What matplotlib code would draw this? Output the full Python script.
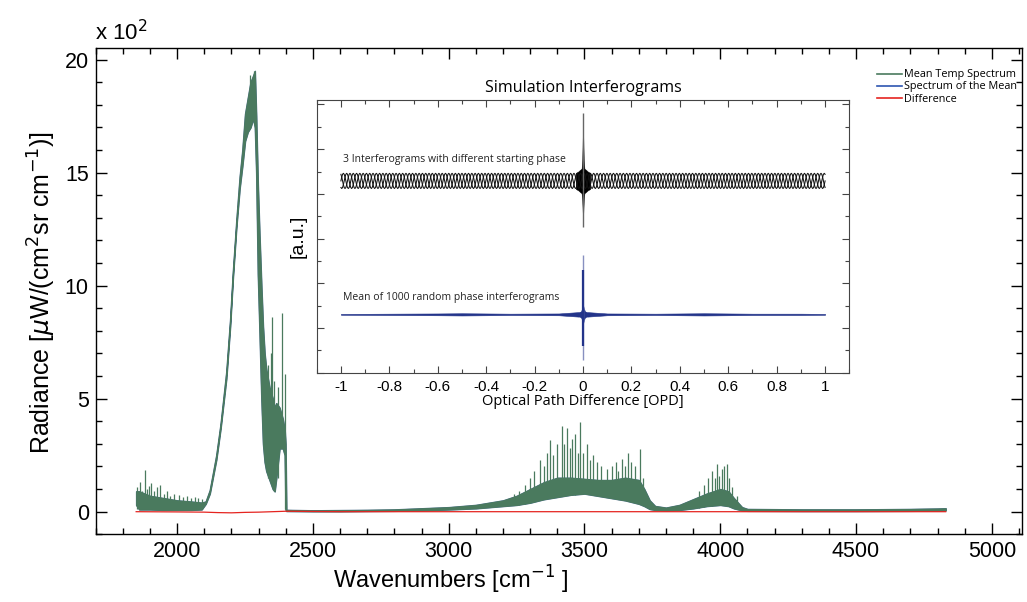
import numpy as np
import matplotlib
matplotlib.use("Agg")
import matplotlib.pyplot as plt
from matplotlib.lines import Line2D
from matplotlib.ticker import MultipleLocator

# ---- main spectrum (radiance in units of 10^2 uW/(cm^2 sr cm^-1)) ----
spec_wn = [1849, 1860, 1880, 1900, 1950, 2000, 2050, 2090, 2105, 2120, 2144, 2160,
           2181, 2195, 2205, 2218, 2230, 2240, 2250, 2260, 2270, 2280, 2286, 2291,
           2297, 2303, 2310, 2316, 2322, 2328, 2340, 2352, 2359, 2365, 2377, 2389,
           2396, 2399, 2402, 2500, 2600, 2700, 2800, 2900, 3000, 3100, 3200, 3250,
           3300, 3350, 3400, 3450, 3500, 3550, 3600, 3650, 3700, 3720, 3740, 3760,
           3800, 3850, 3900, 3950, 4000, 4030, 4050, 4080, 4100, 4300, 4500, 4700,
           4800, 4830]
spec_lo = [0.3, 0.1, 0.1, 0.1, 0.08, 0.08, 0.08, 0.1, 0.35, 0.8, 2.3, 3.7,
           5.9, 8.2, 10.3, 12.6, 14.3, 15.3, 16.4, 16.8, 17.0, 17.4, 17.0, 15.0,
           10.5, 8.0, 5.0, 3.0, 2.2, 1.8, 1.4, 1.0, 0.9, 1.5, 2.8, 2.8,
           2.5, 0.1, 0.03, 0.02, 0.02, 0.03, 0.04, 0.06, 0.1, 0.15, 0.25, 0.3,
           0.4, 0.55, 0.65, 0.75, 0.8, 0.7, 0.6, 0.5, 0.35, 0.25, 0.12, 0.08,
           0.06, 0.08, 0.15, 0.25, 0.3, 0.25, 0.15, 0.06, 0.04, 0.03, 0.03, 0.04,
           0.05, 0.06]
spec_hi = [0.9, 0.9, 0.8, 0.7, 0.6, 0.5, 0.45, 0.4, 0.45, 0.95, 2.5, 3.9,
           6.2, 8.5, 10.6, 12.9, 14.8, 16.0, 17.6, 18.3, 19.0, 19.3, 19.5, 17.5,
           14.5, 12.3, 10.0, 8.2, 7.0, 6.3, 5.5, 5.0, 4.6, 4.8, 4.6, 4.1,
           3.6, 3.0, 0.08, 0.06, 0.07, 0.08, 0.1, 0.15, 0.2, 0.3, 0.5, 0.7,
           1.0, 1.3, 1.5, 1.5, 1.45, 1.4, 1.4, 1.5, 1.4, 1.0, 0.5, 0.25,
           0.18, 0.3, 0.55, 0.8, 1.0, 0.9, 0.6, 0.2, 0.12, 0.1, 0.1, 0.12,
           0.14, 0.15]

spike_wn = [1852, 1862, 1870, 1880, 1888, 1896, 1905, 1915, 1925, 1938, 1950, 1962,
            1975, 1990, 2005, 2020, 2035, 2050, 2065, 2078, 2090,
            2270, 2283, 2335, 2345, 2350, 2357, 2370, 2386, 2396,
            3240, 3260, 3280, 3300, 3315, 3336, 3350, 3362, 3372, 3385, 3397, 3416,
            3425, 3434, 3445, 3455, 3465, 3475, 3483, 3495, 3508, 3520, 3530, 3545,
            3560, 3582, 3600, 3615, 3625, 3637, 3648, 3661, 3672, 3685, 3704, 3715,
            3920, 3940, 3955, 3970, 3980, 3987, 3995, 4005, 4012, 4024, 4032, 4045, 4060]
spike_top = [1.1, 1.3, 0.9, 1.85, 1.0, 1.15, 1.25, 0.9, 1.1, 1.2, 0.8, 0.9,
             0.7, 0.8, 0.75, 0.65, 0.7, 0.6, 0.65, 0.6, 0.55,
             19.3, 19.5, 6.5, 7.0, 8.6, 5.8, 5.5, 8.8, 6.1,
             0.8, 0.9, 1.2, 1.5, 1.8, 2.3, 2.0, 2.6, 3.15, 2.5, 3.0, 3.8,
             3.0, 3.7, 2.8, 3.2, 3.45, 2.6, 3.96, 2.6, 3.0, 2.3, 2.5, 2.2,
             2.0, 1.9, 2.0, 2.2, 1.8, 2.35, 2.0, 2.6, 2.2, 2.0, 2.77, 1.5,
             0.9, 1.2, 1.5, 1.8, 1.5, 2.1, 1.6, 1.9, 2.0, 2.1, 1.5, 1.1, 0.7]
spike_base = [0.1] * 21 + [17.0, 17.2, 1.5, 1.4, 1.2, 0.9, 1.5, 2.8, 0.1] + \
             [0.3, 0.3, 0.35, 0.4, 0.45, 0.55, 0.55, 0.6, 0.6, 0.62, 0.65, 0.68,
              0.7, 0.72, 0.75, 0.75, 0.76, 0.78, 0.8, 0.8, 0.8, 0.78, 0.75, 0.72,
              0.7, 0.68, 0.6, 0.58, 0.55, 0.52, 0.5, 0.48, 0.45, 0.42, 0.35, 0.3] + \
             [0.15, 0.2, 0.25, 0.27, 0.28, 0.3, 0.3, 0.3, 0.28, 0.27, 0.25, 0.2, 0.12]

diff_wn = [1849, 2000, 2100, 2150, 2200, 2250, 2300, 2350, 2400, 2600,
           3000, 3500, 4000, 4830]
diff_val = [0.0, -0.01, -0.02, -0.04, -0.05, -0.03, -0.02, 0.0, 0.02, 0.0,
            0.0, 0.0, 0.0, 0.0]

# ---- inset interferograms ----
ifg_cycle = [0.0, 0.5, 0.87, 1.0, 0.87, 0.5, 0.0, -0.5, -0.87, -1.0, -0.87, -0.5]
ifg_shift = [0, 4, 8]          # samples of starting phase, one per interferogram
ifg_ncycles = 49
ifg_center = 8.58
ifg_amp = 0.34
burst_x = [-0.03, -0.02, -0.012, -0.006, -0.003, 0.0, 0.003, 0.006, 0.012, 0.02, 0.03]
burst_up = [0.36, 0.42, 0.5, 0.55, 1.0, 2.6, 1.0, 0.55, 0.5, 0.42, 0.36]
burst_dn = [0.36, 0.42, 0.5, 0.55, 0.9, 1.8, 0.9, 0.55, 0.5, 0.42, 0.36]
ifg_tip = [6.5, 11.6]

mean_center = 2.61
mean_x = [-1.0, -0.8, -0.6, -0.5, -0.3, -0.1, -0.02, 0.02, 0.1, 0.3, 0.5, 0.7, 0.9, 1.0]
mean_amp = [0.02, 0.03, 0.04, 0.05, 0.03, 0.04, 0.1, 0.1, 0.04, 0.03, 0.05, 0.03, 0.03, 0.02]
mburst_x = [-0.015, -0.008, -0.004, 0.0, 0.004, 0.008, 0.015]
mburst_amp = [0.08, 0.15, 0.25, 0.45, 0.25, 0.15, 0.08]
mean_tip = [0.57, 5.26]
mean_core = [1.2, 4.6]

green = '#4a7a5e'
blue = '#2d55b0'
red = '#e52420'
navy = '#23348a'

fig = plt.figure(figsize=(10.27, 6.02), dpi=100)
main_font = 'Liberation Sans'
ax = fig.add_axes([95.7 / 1027, 1 - 534.3 / 602, 926 / 1027, 486 / 602])

ax.fill_between(spec_wn, spec_lo, spec_hi, facecolor=green, edgecolor='#4a6e8a', lw=1.1)
ax.fill_between(spec_wn, spec_lo, spec_hi, facecolor=green, edgecolor=green, lw=0.7)
ax.vlines(spike_wn, spike_base, spike_top, color=green, lw=0.9)
ax.plot(diff_wn, diff_val, color=red, lw=0.9)

ax.set_xlim(1700, 5110)
ax.set_ylim(-1.0, 20.5)
ax.xaxis.set_major_locator(MultipleLocator(500))
ax.xaxis.set_minor_locator(MultipleLocator(100))
ax.yaxis.set_major_locator(MultipleLocator(5))
ax.yaxis.set_minor_locator(MultipleLocator(1))
ax.tick_params(which='both', direction='in', top=True, right=True, width=1.0)
ax.tick_params(which='major', length=8, labelsize=15.5, pad=5)
ax.tick_params(which='minor', length=4)
for lab in ax.get_xticklabels() + ax.get_yticklabels():
    lab.set_family(main_font)
for s in ax.spines.values():
    s.set_linewidth(1.0)

fig.text(451 / 1027, 1 - 580 / 602, 'Wavenumbers [cm$^{-1}$ ]', ha='center', va='center',
         fontsize=17, family=main_font)
fig.text(42 / 1027, 1 - 293 / 602, r'Radiance [$\mu$W/(cm$^2$sr cm$^{-1}$)]', ha='center',
         va='center', rotation=90, fontsize=18, family=main_font)
fig.text(95 / 1027, 1 - 33 / 602, 'x 10$^2$', ha='left', va='center', fontsize=16,
         family=main_font)

handles = [Line2D([], [], color=green, lw=1.2), Line2D([], [], color=blue, lw=1.2),
           Line2D([], [], color=red, lw=1.2)]
ax.legend(handles, ['Mean Temp Spectrum', 'Spectrum of the Mean', 'Difference'],
          loc='upper left', bbox_to_anchor=(872 / 1027, 1 - 64 / 602),
          bbox_transform=fig.transFigure, frameon=False, borderpad=0,
          handlelength=2.3, handletextpad=0.15, labelspacing=0.1,
          prop={'family': 'Open Sans', 'size': 7.8})

# ---- inset ----
ins_font = 'Open Sans'
ax2 = fig.add_axes([316.7 / 1027, 1 - 372.7 / 602, 532.6 / 1027, 272.7 / 602])
n = len(ifg_cycle) * ifg_ncycles
ifg_x = np.linspace(-1, 1, n + 1)
for sh in ifg_shift:
    y = np.tile(np.roll(ifg_cycle, sh), ifg_ncycles + 1)[:n + 1]
    ax2.plot(ifg_x, ifg_center + ifg_amp * y, color='#111111', lw=0.75)
bu = [ifg_center + v for v in burst_up]
bd = [ifg_center - v for v in burst_dn]
ax2.vlines(0, ifg_tip[0], ifg_tip[1], color='#666666', lw=1.0)
ax2.fill_between(burst_x, bd, bu, color='black', lw=0.3)

mu = [mean_center + v for v in mean_amp]
md = [mean_center - v for v in mean_amp]
ax2.fill_between(mean_x, md, mu, color=navy, lw=0.4)
ax2.vlines(0, mean_tip[0], mean_tip[1], color='#8890c0', lw=1.0)
ax2.vlines(0, mean_core[0], mean_core[1], color=navy, lw=1.6)
ax2.fill_between(mburst_x, [mean_center - v for v in mburst_amp],
                 [mean_center + v for v in mburst_amp], color=navy, lw=0.3)

ax2.text(-0.99, 9.55, '3 Interferograms with different starting phase', fontsize=7.5,
         family=ins_font, va='center', ha='left', color='#222222')
ax2.text(-0.99, 3.35, 'Mean of 1000 random phase interferograms', fontsize=7.5,
         family=ins_font, va='center', ha='left', color='#222222')

ax2.set_xlim(-1.1, 1.1)
ax2.set_ylim(0, 12.2)
ax2.set_xticks([-1, -0.8, -0.6, -0.4, -0.2, 0, 0.2, 0.4, 0.6, 0.8, 1])
ax2.set_xticklabels(['-1', '-0.8', '-0.6', '-0.4', '-0.2', '0', '0.2', '0.4', '0.6',
                     '0.8', '1'])
ax2.xaxis.set_minor_locator(MultipleLocator(0.1))
ax2.yaxis.set_major_locator(MultipleLocator(2))
ax2.yaxis.set_minor_locator(MultipleLocator(1))
ax2.tick_params(which='both', direction='in', top=True, right=True, width=0.8,
                color='#444444')
ax2.tick_params(which='major', length=5, labelsize=11, pad=5, labelleft=False)
ax2.tick_params(which='minor', length=3)
for lab in ax2.get_xticklabels():
    lab.set_family(main_font)
for s in ax2.spines.values():
    s.set_linewidth(0.8)
    s.set_color('#444444')
ax2.set_title('Simulation Interferograms', fontsize=11.5, family=ins_font, pad=6)
ax2.set_xlabel('Optical Path Difference [OPD]', fontsize=10.5, family=ins_font, labelpad=0)
ax2.set_ylabel('[a.u.]', fontsize=14, family=main_font, labelpad=4)

fig.savefig('out.png', dpi=100)
